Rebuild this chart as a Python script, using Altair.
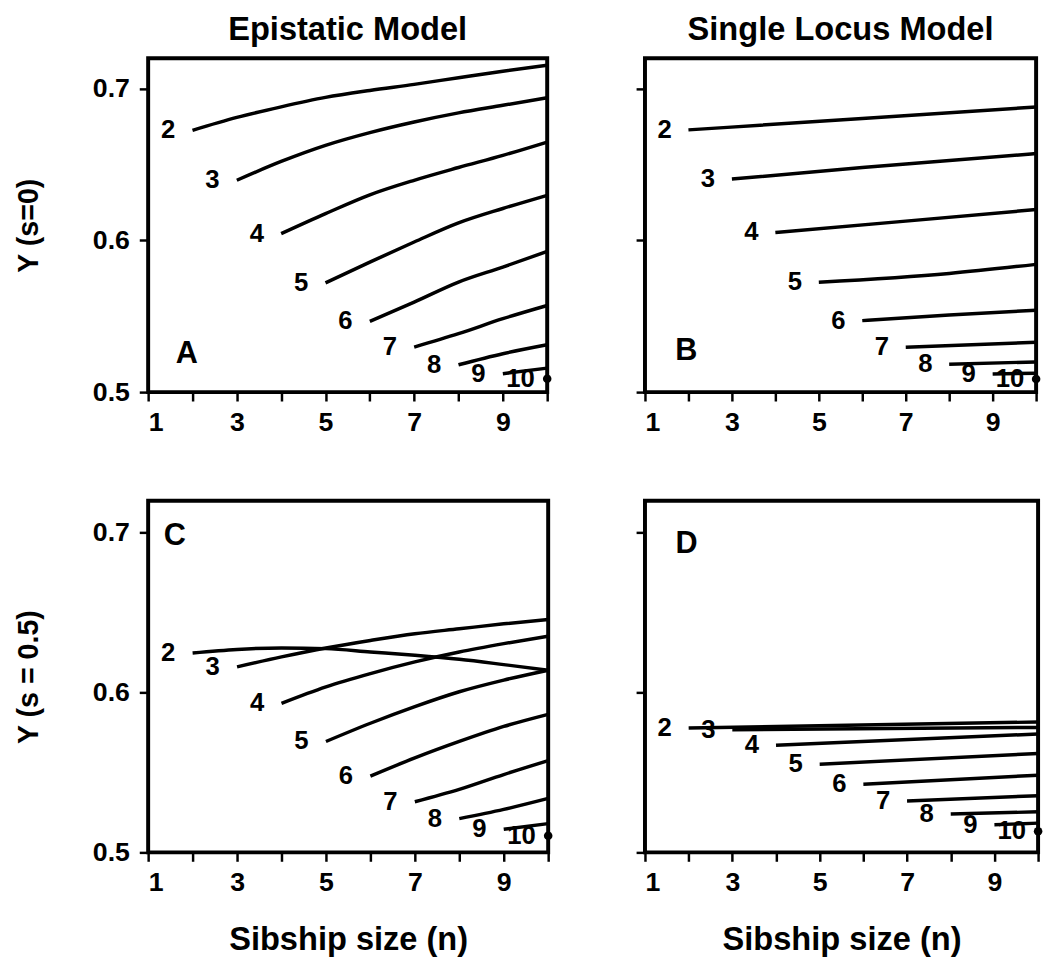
import altair as alt
import pandas as pd

FONT = "Liberation Sans"

X_TICKS = [1, 2, 3, 4, 5, 6, 7, 8, 9, 10]
Y_TICKS = [0.5, 0.6, 0.7]
X_DOMAIN = [1, 10]
Y_DOMAIN = [0.5, 0.72]

COL_TITLES = ["Epistatic Model", "Single Locus Model"]
ROW_TITLES = ["Y (s=0)", "Y (s = 0.5)"]
X_TITLE = "Sibship size (n)"

# ---- Panel A: epistatic model, s = 0 -------------------------------------
A_X = {
    2: [2, 3, 4, 5, 6, 7, 8, 9, 10],
    3: [3, 4, 5, 6, 7, 8, 9, 10],
    4: [4, 5, 6, 7, 8, 9, 10],
    5: [5, 6, 7, 8, 9, 10],
    6: [6, 7, 8, 9, 10],
    7: [7, 8, 9, 10],
    8: [8, 9, 10],
    9: [9, 10],
}
A_Y = {
    2: [0.6725, 0.681, 0.688, 0.6942, 0.6988, 0.7028, 0.7072, 0.7115, 0.7154],
    3: [0.6396, 0.652, 0.6626, 0.671, 0.678, 0.684, 0.689, 0.694],
    4: [0.6044, 0.6176, 0.630, 0.6396, 0.648, 0.656, 0.6648],
    5: [0.572, 0.5857, 0.5989, 0.6115, 0.621, 0.6297],
    6: [0.5466, 0.5593, 0.5725, 0.5824, 0.5927],
    7: [0.5297, 0.5385, 0.5484, 0.5571],
    8: [0.518, 0.5253, 0.5312],
    9: [0.5121, 0.5158],
}
A_N10 = 0.5088

# ---- Panel B: single locus model, s = 0 -----------------------------------
B_X = {
    2: [2, 6, 10],
    3: [3, 6, 10],
    4: [4, 7, 10],
    5: [5, 8, 10],
    6: [6, 8, 10],
    7: [7, 10],
    8: [8, 10],
    9: [9, 10],
}
B_Y = {
    2: [0.6728, 0.6803, 0.6879],
    3: [0.6404, 0.648, 0.6572],
    4: [0.6052, 0.6127, 0.6203],
    5: [0.5724, 0.5782, 0.5842],
    6: [0.5471, 0.5508, 0.554],
    7: [0.5296, 0.5328],
    8: [0.5184, 0.5199],
    9: [0.5119, 0.5125],
}
B_N10 = 0.5086

# ---- Panel C: epistatic model, s = 0.5 ------------------------------------
C_X = A_X
C_Y = {
    2: [0.6248, 0.627, 0.6279, 0.6275, 0.6254, 0.6233, 0.6208, 0.6175, 0.614],
    3: [0.6161, 0.6223, 0.6279, 0.6326, 0.6368, 0.6399, 0.643, 0.6457],
    4: [0.5933, 0.6036, 0.6119, 0.6192, 0.6254, 0.6306, 0.6353],
    5: [0.5694, 0.5808, 0.5912, 0.6005, 0.6078, 0.614],
    6: [0.5477, 0.5591, 0.5694, 0.5788, 0.5864],
    7: [0.5317, 0.5394, 0.5487, 0.5574],
    8: [0.5211, 0.5269, 0.5338],
    9: [0.5145, 0.518],
}
C_N10 = 0.5104

# ---- Panel D: single locus model, s = 0.5 ---------------------------------
D_X = {
    2: [2, 10],
    3: [3, 10],
    4: [4, 10],
    5: [5, 10],
    6: [6, 10],
    7: [7, 10],
    8: [8, 10],
    9: [9, 10],
}
D_Y = {
    2: [0.5778, 0.5816],
    3: [0.5767, 0.5782],
    4: [0.567, 0.5741],
    5: [0.5552, 0.5619],
    6: [0.5426, 0.5483],
    7: [0.5321, 0.5355],
    8: [0.524, 0.5254],
    9: [0.5173, 0.5183],
}
D_N10 = 0.5132

PANEL_LETTERS = ["A", "B", "C", "D"]
LETTER_N = [1.87, 1.95, 1.6, 1.95]
LETTER_Y = [0.5253, 0.527, 0.698, 0.693]
LABEL_SHIFT = 0.55
LABEL10_N = 9.4


def make_panel(xs, ys, y10, letter, letter_n, letter_y, width, height,
               show_y_labels, y_title, x_title, title):
    line_rows = []
    for k in ys:
        for n, v in zip(xs[k], ys[k]):
            line_rows.append({"curve": k, "n": n, "Y": v})
    lines_df = pd.DataFrame(line_rows)
    label_rows = [{"txt": str(k), "n": xs[k][0] - LABEL_SHIFT, "Y": ys[k][0]} for k in ys]
    label_rows.append({"txt": "10", "n": LABEL10_N, "Y": y10})
    labels_df = pd.DataFrame(label_rows)
    pt_df = pd.DataFrame([{"n": 10, "Y": y10}])
    letter_df = pd.DataFrame([{"txt": letter, "n": letter_n, "Y": letter_y}])

    x_axis_kw = dict(values=X_TICKS,
                     labelExpr="datum.value % 2 == 1 ? datum.label : ''")
    if x_title:
        x_axis_kw["title"] = x_title
    else:
        x_axis_kw["title"] = None
    y_axis_kw = dict(values=Y_TICKS, format=".1f", labels=show_y_labels)
    if y_title:
        y_axis_kw["title"] = y_title
    else:
        y_axis_kw["title"] = None

    xs_enc = alt.X("n:Q", scale=alt.Scale(domain=X_DOMAIN, nice=False),
                   axis=alt.Axis(**x_axis_kw))
    ys_enc = alt.Y("Y:Q", scale=alt.Scale(domain=Y_DOMAIN, nice=False),
                   axis=alt.Axis(**y_axis_kw))

    base_lines = alt.Chart(lines_df).mark_line(
        color="black", strokeWidth=3.5, interpolate="monotone", clip=True
    ).encode(x=xs_enc, y=ys_enc, detail="curve:N")
    pts = alt.Chart(pt_df).mark_circle(color="black", size=75, opacity=1
                                       ).encode(x="n:Q", y="Y:Q")
    labs = alt.Chart(labels_df).mark_text(
        font=FONT, fontSize=26, fontWeight="bold", color="black",
        align="center", baseline="middle"
    ).encode(x="n:Q", y="Y:Q", text="txt:N")
    let = alt.Chart(letter_df).mark_text(
        font=FONT, fontSize=31, fontWeight="bold", color="black",
        align="center", baseline="middle"
    ).encode(x="n:Q", y="Y:Q", text="txt:N")

    layer = alt.layer(base_lines, pts, labs, let)
    props = dict(width=width, height=height)
    if title:
        props["title"] = alt.TitleParams(text=title, font=FONT, fontSize=33,
                                         fontWeight="bold", color="black",
                                         offset=12, anchor="middle")
    return layer.properties(**props)


pA = make_panel(A_X, A_Y, A_N10, PANEL_LETTERS[0], LETTER_N[0], LETTER_Y[0],
                404, 338, True, ROW_TITLES[0], None, COL_TITLES[0])
pB = make_panel(B_X, B_Y, B_N10, PANEL_LETTERS[1], LETTER_N[1], LETTER_Y[1],
                396, 338, False, None, None, COL_TITLES[1])
pC = make_panel(C_X, C_Y, C_N10, PANEL_LETTERS[2], LETTER_N[2], LETTER_Y[2],
                405, 356, True, ROW_TITLES[1], X_TITLE, None)
pD = make_panel(D_X, D_Y, D_N10, PANEL_LETTERS[3], LETTER_N[3], LETTER_Y[3],
                398, 356, False, None, X_TITLE, None)

top = alt.hconcat(pA, pB, spacing=79)
bottom = alt.hconcat(pC, pD, spacing=78)

chart = alt.vconcat(top, bottom, spacing=62).properties(
    padding={"left": 13, "top": 6, "right": 0, "bottom": 0},
    background="white",
).configure_view(
    stroke="black", strokeWidth=4
).configure_axis(
    labelFont=FONT, titleFont=FONT, labelFontSize=27, labelFontWeight="bold",
    titleFontSize=29, titleFontWeight="bold", labelColor="black",
    titleColor="black", tickColor="black", tickSize=9, tickWidth=2.5,
    domain=False, grid=False
).configure_axisX(
    labelPadding=9, titlePadding=28, titleFontSize=33
).configure_axisY(
    labelPadding=10, titlePadding=49
)

chart.save("out.html", embed_options={"renderer": "svg", "actions": False})
